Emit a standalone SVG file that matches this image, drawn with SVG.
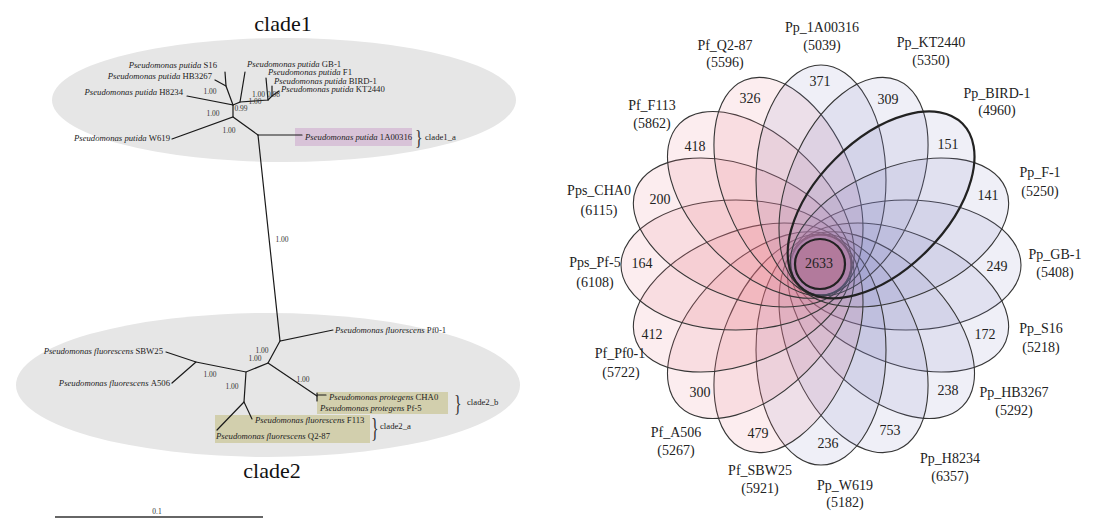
<svg xmlns="http://www.w3.org/2000/svg" width="1094" height="527" viewBox="0 0 1094 527">
<style>
.bg{fill:#ffffff}
.clade{fill:#e6e6e6}
.br{stroke:#1a1a1a;stroke-width:1.2;fill:none;stroke-linecap:round}
.sp{font-family:"Liberation Serif",serif;font-size:8.7px;font-style:italic;fill:#222}
.sn{font-style:normal}
.bs{font-family:"Liberation Serif",serif;font-size:7.5px;fill:#333;text-anchor:middle}
.cl{font-family:"Liberation Serif",serif;font-size:8.7px;fill:#222}
.brace{font-family:"Liberation Serif",serif;font-size:20px;fill:#333}
.title{font-family:"Liberation Serif",serif;font-size:22px;fill:#111;text-anchor:middle}
.pk{fill:#e8707c;fill-opacity:0.125;stroke:#363636;stroke-width:1.1}
.bl{fill:#7878c0;fill-opacity:0.12;stroke:#363636;stroke-width:1.1}
.bold{stroke:#222;stroke-width:2.2}
.num{font-family:"Liberation Serif",serif;font-size:14px;fill:#222;text-anchor:middle}
.lab{font-family:"Liberation Serif",serif;font-size:14px;fill:#222;text-anchor:middle}
</style>
<rect class="bg" x="0" y="0" width="1094" height="527"/>

<!-- ===== Phylogenetic tree ===== -->
<g id="clade1">
  <ellipse class="clade" cx="284" cy="100" rx="232" ry="62"/>
  <text class="title" x="283" y="31">clade1</text>
</g>
<g id="clade2">
  <ellipse class="clade" cx="268" cy="385" rx="252" ry="72"/>
  <text class="title" x="272" y="478">clade2</text>
</g>
<g id="box-clade1_a">
  <rect x="295" y="128" width="117" height="18" fill="#d8c3d8"/>
</g>
<g id="box-clade2_b">
  <rect x="317" y="392" width="131" height="22" fill="#d2cfad"/>
</g>
<g id="box-clade2_a">
  <rect x="215" y="415" width="155" height="28" fill="#d2cfad"/>
</g>

<g id="branches">
  <path class="br" d="M258,135 L302,135"/>
  <path class="br" d="M258,135 L233,117 L172,139"/>
  <path class="br" d="M233,117 L233,105 L187,96"/>
  <path class="br" d="M233,105 L226,86 L225,72"/>
  <path class="br" d="M226,86 L215,80"/>
  <path class="br" d="M233,105 L240,102 L245,72"/>
  <path class="br" d="M240,102 L268,100 L266,78"/>
  <path class="br" d="M268,100 L272,96 L272,86"/>
  <path class="br" d="M272,96 L279,91"/>
  <path class="br" d="M258,135 L280,341 L333,330"/>
  <path class="br" d="M280,341 L268,363 L246,372 L196,362 L166,352"/>
  <path class="br" d="M196,362 L172,383"/>
  <path class="br" d="M268,363 L317,396"/>
  <path class="br" d="M317,393 L317,401 M317,395 L326,395"/>
  <path class="br" d="M246,372 L244,402 L252,419"/>
  <path class="br" d="M244,402 L217,430"/>
</g>

<g id="tree-labels">
  <text class="sp" x="217" y="68" text-anchor="end">Pseudomonas putida <tspan class="sn">S16</tspan></text>
  <text class="sp" x="247" y="67">Pseudomonas putida <tspan class="sn">GB-1</tspan></text>
  <text class="sp" x="212" y="79" text-anchor="end">Pseudomonas putida <tspan class="sn">HB3267</tspan></text>
  <text class="sp" x="268" y="75">Pseudomonas putida <tspan class="sn">F1</tspan></text>
  <text class="sp" x="274" y="83.5">Pseudomonas putida <tspan class="sn">BIRD-1</tspan></text>
  <text class="sp" x="281" y="92">Pseudomonas putida <tspan class="sn">KT2440</tspan></text>
  <text class="sp" x="183" y="95" text-anchor="end">Pseudomonas putida <tspan class="sn">H8234</tspan></text>
  <text class="sp" x="170" y="141" text-anchor="end">Pseudomonas putida <tspan class="sn">W619</tspan></text>
  <text class="sp" x="305" y="140">Pseudomonas putida <tspan class="sn">1A00316</tspan></text>
  <text class="brace" x="415" y="144" transform="translate(415,144) scale(0.8,1) translate(-415,-144)">}</text>
  <text class="cl" x="425" y="140">clade1_a</text>

  <text class="sp" x="335" y="333">Pseudomonas fluorescens <tspan class="sn">Pf0-1</tspan></text>
  <text class="sp" x="163" y="354" text-anchor="end">Pseudomonas fluorescens <tspan class="sn">SBW25</tspan></text>
  <text class="sp" x="170" y="386" text-anchor="end">Pseudomonas fluorescens <tspan class="sn">A506</tspan></text>
  <text class="sp" x="329" y="400">Pseudomonas protegens <tspan class="sn">CHA0</tspan></text>
  <text class="sp" x="320" y="411">Pseudomonas protegens <tspan class="sn">Pf-5</tspan></text>
  <text class="brace" x="454" y="411" transform="translate(454,411) scale(0.8,1.2) translate(-454,-411)">}</text>
  <text class="cl" x="467" y="405">clade2_b</text>
  <text class="sp" x="255" y="423">Pseudomonas fluorescens <tspan class="sn">F113</tspan></text>
  <text class="sp" x="216" y="439">Pseudomonas fluorescens <tspan class="sn">Q2-87</tspan></text>
  <text class="brace" x="371" y="437" transform="translate(371,437) scale(0.8,1.4) translate(-371,-437)">}</text>
  <text class="cl" x="380" y="429">clade2_a</text>

  <text class="bs" x="210" y="94">1.00</text>
  <text class="bs" x="213" y="116">1.00</text>
  <text class="bs" x="229" y="133">1.00</text>
  <text class="bs" x="241" y="111">0.99</text>
  <text class="bs" x="255" y="104">1.00</text>
  <text class="bs" x="266" y="97">1.00 0.98</text>
  <text class="bs" x="282" y="242">1.00</text>
  <text class="bs" x="262" y="353">1.00</text>
  <text class="bs" x="255" y="361">1.00</text>
  <text class="bs" x="210" y="377">1.00</text>
  <text class="bs" x="232" y="389">1.00</text>
  <text class="bs" x="303" y="382">1.00</text>
</g>

<g id="scale-bar">
  <line x1="55" y1="517" x2="263" y2="517" stroke="#666" stroke-width="2"/>
  <text class="bs" x="157" y="514" font-size="7">0.1</text>
</g>

<!-- ===== Flower Venn diagram ===== -->
<g id="petal-GB-1"><ellipse class="bl" cx="85" cy="0" rx="115" ry="65" transform="translate(821,265) rotate(0)"/><text class="num" x="997" y="271">249</text><text class="lab" x="1055" y="259">Pp_GB-1</text><text class="lab" x="1055" y="277">(5408)</text></g>
<g id="petal-S16"><ellipse class="bl" cx="85" cy="0" rx="115" ry="65" transform="translate(821,265) rotate(22.5)"/><text class="num" x="985" y="339">172</text><text class="lab" x="1041" y="333">Pp_S16</text><text class="lab" x="1041" y="352">(5218)</text></g>
<g id="petal-HB3267"><ellipse class="bl" cx="85" cy="0" rx="115" ry="65" transform="translate(821,265) rotate(45)"/><text class="num" x="948" y="395">238</text><text class="lab" x="1014" y="397">Pp_HB3267</text><text class="lab" x="1014" y="415">(5292)</text></g>
<g id="petal-H8234"><ellipse class="bl" cx="85" cy="0" rx="115" ry="65" transform="translate(821,265) rotate(67.5)"/><text class="num" x="890" y="435">753</text><text class="lab" x="950" y="463">Pp_H8234</text><text class="lab" x="950" y="481">(6357)</text></g>
<g id="petal-W619"><ellipse class="bl" cx="85" cy="0" rx="115" ry="65" transform="translate(821,265) rotate(90)"/><text class="num" x="828" y="448">236</text><text class="lab" x="845" y="490">Pp_W619</text><text class="lab" x="845" y="507">(5182)</text></g>
<g id="petal-SBW25"><ellipse class="pk" cx="85" cy="0" rx="115" ry="65" transform="translate(821,265) rotate(112.5)"/><text class="num" x="758" y="438">479</text><text class="lab" x="760" y="475">Pf_SBW25</text><text class="lab" x="760" y="493">(5921)</text></g>
<g id="petal-A506"><ellipse class="pk" cx="85" cy="0" rx="115" ry="65" transform="translate(821,265) rotate(135)"/><text class="num" x="700" y="397">300</text><text class="lab" x="676" y="437">Pf_A506</text><text class="lab" x="676" y="455">(5267)</text></g>
<g id="petal-Pf0-1"><ellipse class="pk" cx="85" cy="0" rx="115" ry="65" transform="translate(821,265) rotate(157.5)"/><text class="num" x="652" y="339">412</text><text class="lab" x="620" y="358">Pf_Pf0-1</text><text class="lab" x="621" y="377">(5722)</text></g>
<g id="petal-Pf-5"><ellipse class="pk" cx="85" cy="0" rx="115" ry="65" transform="translate(821,265) rotate(180)"/><text class="num" x="642" y="268">164</text><text class="lab" x="595" y="267">Pps_Pf-5</text><text class="lab" x="595" y="287">(6108)</text></g>
<g id="petal-CHA0"><ellipse class="pk" cx="85" cy="0" rx="115" ry="65" transform="translate(821,265) rotate(202.5)"/><text class="num" x="660" y="204">200</text><text class="lab" x="599" y="195">Pps_CHA0</text><text class="lab" x="599" y="215">(6115)</text></g>
<g id="petal-F113"><ellipse class="pk" cx="85" cy="0" rx="115" ry="65" transform="translate(821,265) rotate(225)"/><text class="num" x="695" y="151">418</text><text class="lab" x="652" y="110">Pf_F113</text><text class="lab" x="652" y="128">(5862)</text></g>
<g id="petal-Q2-87"><ellipse class="pk" cx="85" cy="0" rx="115" ry="65" transform="translate(821,265) rotate(247.5)"/><text class="num" x="750" y="103">326</text><text class="lab" x="725" y="50">Pf_Q2-87</text><text class="lab" x="725" y="67">(5596)</text></g>
<g id="petal-1A00316"><ellipse class="bl" cx="85" cy="0" rx="115" ry="65" transform="translate(821,265) rotate(270)"/><text class="num" x="820" y="86">371</text><text class="lab" x="822" y="32">Pp_1A00316</text><text class="lab" x="822" y="50">(5039)</text></g>
<g id="petal-KT2440"><ellipse class="bl" cx="85" cy="0" rx="115" ry="65" transform="translate(821,265) rotate(292.5)"/><text class="num" x="888" y="104">309</text><text class="lab" x="931" y="47">Pp_KT2440</text><text class="lab" x="931" y="65">(5350)</text></g>
<g id="petal-F-1"><ellipse class="bl" cx="85" cy="0" rx="115" ry="65" transform="translate(821,265) rotate(337.5)"/><text class="num" x="988" y="200">141</text><text class="lab" x="1040" y="177">Pp_F-1</text><text class="lab" x="1040" y="196">(5250)</text></g>
<g id="petal-BIRD-1"><ellipse class="bl bold" cx="85" cy="0" rx="115" ry="65" transform="translate(821,265) rotate(315)"/><text class="num" x="948" y="149">151</text><text class="lab" x="997" y="98">Pp_BIRD-1</text><text class="lab" x="997" y="115">(4960)</text></g>
<g id="core">
  <circle cx="820" cy="264" r="25" fill="#b27a9c" stroke="#222" stroke-width="2.2"/>
  <text class="num" x="819" y="268">2633</text>
</g>
</svg>
